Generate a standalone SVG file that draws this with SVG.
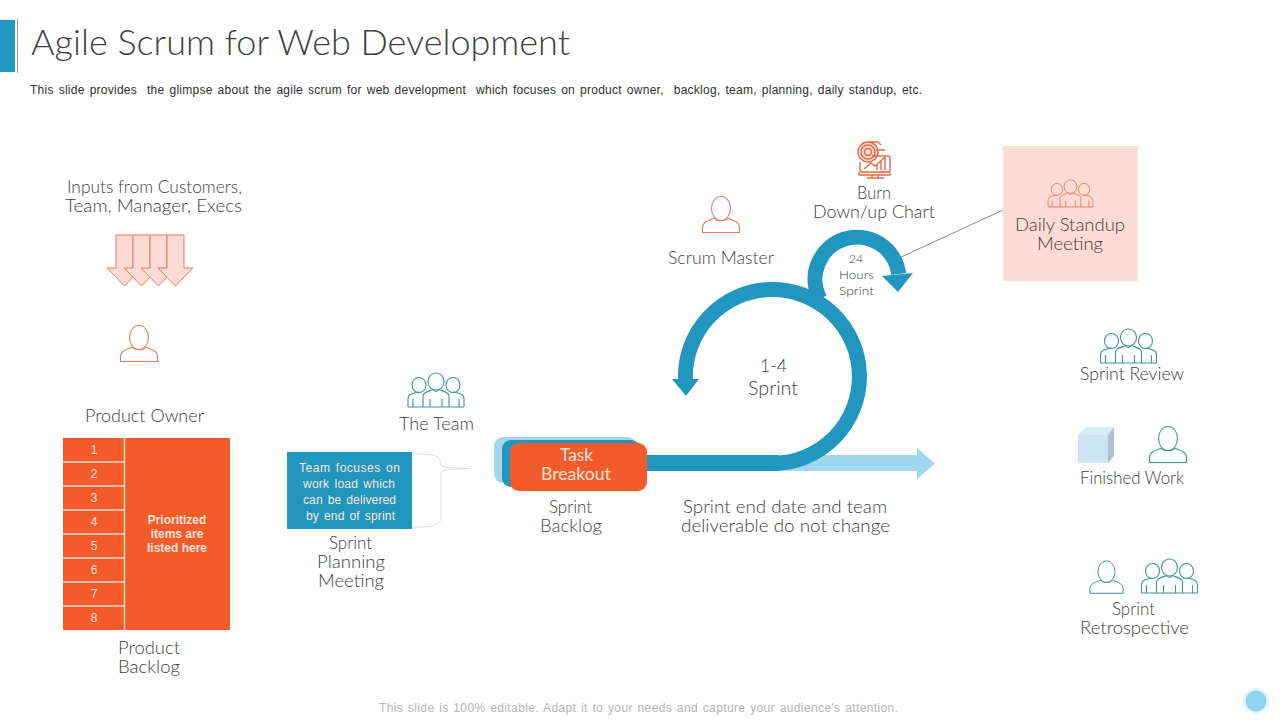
<svg xmlns="http://www.w3.org/2000/svg" xmlns:xlink="http://www.w3.org/1999/xlink" width="1280" height="720" viewBox="0 0 1280 720">
<style>
text{font-family:"Lato","Open Sans","Liberation Sans",sans-serif;font-weight:300;font-size:17px;fill:#404040;white-space:pre}
.title{font-size:36px;fill:#3f3f3f}
.sans{font-family:"Liberation Sans",Arial,sans-serif;font-weight:400;font-size:12px}
.sub{fill:#2e2e2e;word-spacing:1.400px}
.foot{fill:#b5b5b5;word-spacing:1px}
.lt{fill:#fde3da}
.wd{word-spacing:1.500px}
.b{font-weight:700}
.c{text-anchor:middle}
.w{font-weight:400;fill:#fde3da}
.small{font-size:12.5px}
.ico{fill:none;stroke-width:1.1;stroke-linejoin:round}
.or{stroke:#e67a5c}
.te{stroke:#3f93a8}
.blue{fill:#2196bf}
.pale{fill:#9fd8ee}
.rowl{stroke:#fddccf;stroke-width:1.5}
</style>
<defs>
<g id="person"><ellipse cx="0" cy="-11.500" rx="9.500" ry="12"/><path d="M-18.500 12.500V7.500C-18.500 2-13 0.500-6.500-2C-5 1.500 5 1.500 6.500-2C13 0.500 18.500 2 18.500 7.500V12.500Z"/></g>
<g id="team"><ellipse cx="-17" cy="-22" rx="7" ry="7.500"/><ellipse cx="17" cy="-22" rx="7" ry="7.500"/><ellipse cx="0" cy="-25.500" rx="8" ry="8.500"/><path d="M-28 0V-8C-28-13-23-14-17-15M28 0V-8C28-13 23-14 17-15M-28 0H28M-13 0V-11C-13-15-6-16-3-17.500C-1-15 1-15 3-17.500C6-16 13-15 13-11V0M-23 0V-8M23 0V-8M-6 0V-8M6 0V-8"/></g>
<path id="downarrow" d="M-8.500 0H8.500V33H17.500L0 51L-17.500 33H-8.500Z" fill="#fcdcd4" stroke="#e67a5c" stroke-width="1"/>
</defs>

<g id="header">
<rect x="0" y="20" width="15" height="52" fill="#2196bf"/>
<rect x="17" y="19" width="1" height="54" fill="#c9916f"/>
<text class="title" x="31" y="55" textLength="539" lengthAdjust="spacingAndGlyphs">Agile Scrum for Web Development</text>
<text class="sans sub" x="30" y="94" textLength="892" lengthAdjust="spacing">This slide provides  the glimpse about the agile scrum for web development  which focuses on product owner,  backlog, team, planning, daily standup, etc.</text>
</g>

<g id="connectors">
<path d="M1003 210L899 258" stroke="#8c8c8c" stroke-width="1" fill="none"/>
<path d="M412 454C428 454 440 453 441 465C442 468 455 468 470 468.500C455 469 442 469 441 473V518C440 527 428 527 412 527" fill="none" stroke="#dcdcdc" stroke-width="1"/>
<path class="pale" d="M780 455H917V448L935 463.500L917 479V471H780Z"/>
<rect class="blue" x="647" y="455" width="132" height="16"/>
<path d="M772.500 463.500A87 87 0 1 0 685.500 380" fill="none" stroke="#2196bf" stroke-width="15"/>
<path class="blue" d="M672 379H699L686 396Z"/>
<path d="M820 299A42 42 0 1 1 898.700 274" fill="none" stroke="#2196bf" stroke-width="15"/>
<path class="blue" d="M882 276L913 273L898 292Z"/>
</g>

<g id="inputs">
<text x="67" y="193" textLength="175" lengthAdjust="spacingAndGlyphs">Inputs from Customers,</text>
<text x="65" y="212" textLength="177" lengthAdjust="spacingAndGlyphs">Team, Manager, Execs</text>
<use xlink:href="#downarrow" href="#downarrow" x="124.500" y="235"/>
<use xlink:href="#downarrow" href="#downarrow" x="141.500" y="235"/>
<use xlink:href="#downarrow" href="#downarrow" x="158.500" y="235"/>
<use xlink:href="#downarrow" href="#downarrow" x="175.500" y="235"/>
</g>

<g id="product-owner">
<use class="ico or" href="#person" x="139" y="349"/>
<text x="85" y="422" textLength="119" lengthAdjust="spacingAndGlyphs">Product Owner</text>
</g>

<g id="product-backlog">
<rect x="63" y="438" width="167" height="192" fill="#f35b2a"/>
<path class="rowl" d="M124.500 438V630M63 462H124M63 486H124M63 510H124M63 534H124M63 558H124M63 582H124M63 606H124"/>
<text class="sans lt c" x="94" y="454">1</text>
<text class="sans lt c" x="94" y="478">2</text>
<text class="sans lt c" x="94" y="502">3</text>
<text class="sans lt c" x="94" y="526">4</text>
<text class="sans lt c" x="94" y="550">5</text>
<text class="sans lt c" x="94" y="574">6</text>
<text class="sans lt c" x="94" y="598">7</text>
<text class="sans lt c" x="94" y="622">8</text>
<text class="sans lt b c" x="177" y="524">Prioritized</text>
<text class="sans lt b c" x="177" y="538">items are</text>
<text class="sans lt b c" x="177" y="552">listed here</text>
<text x="118" y="654" textLength="62" lengthAdjust="spacingAndGlyphs">Product</text>
<text x="118" y="673" textLength="62" lengthAdjust="spacingAndGlyphs">Backlog</text>
</g>

<g id="the-team">
<use class="ico te" href="#team" x="436" y="407"/>
<text x="399" y="430" textLength="75" lengthAdjust="spacingAndGlyphs">The Team</text>
</g>

<g id="sprint-planning">
<rect x="287" y="452" width="125" height="77" fill="#2196bf"/>
<text class="sans lt wd" x="299" y="472" textLength="101" lengthAdjust="spacing">Team focuses on</text>
<text class="sans lt wd" x="303" y="488" textLength="92" lengthAdjust="spacing">work load which</text>
<text class="sans lt wd" x="303" y="504" textLength="93" lengthAdjust="spacing">can be delivered</text>
<text class="sans lt wd" x="306" y="520" textLength="89" lengthAdjust="spacing">by end of sprint</text>
<text x="329" y="549" textLength="43" lengthAdjust="spacingAndGlyphs">Sprint</text>
<text x="317" y="568" textLength="68" lengthAdjust="spacingAndGlyphs">Planning</text>
<text x="318" y="587" textLength="66" lengthAdjust="spacingAndGlyphs">Meeting</text>
</g>

<g id="sprint-backlog">
<rect x="494" y="437" width="143" height="46" rx="9" class="pale"/>
<rect x="502" y="440" width="138" height="47" rx="9" class="blue"/>
<rect x="510" y="443" width="137" height="48" rx="9" fill="#f35b2a"/>
<text class="w" x="560" y="461" textLength="33" lengthAdjust="spacingAndGlyphs">Task</text>
<text class="w" x="541" y="480" textLength="70" lengthAdjust="spacingAndGlyphs">Breakout</text>
<text x="549" y="513" textLength="43" lengthAdjust="spacingAndGlyphs">Sprint</text>
<text x="540" y="532" textLength="62" lengthAdjust="spacingAndGlyphs">Backlog</text>
</g>

<g id="sprint-note">
<text x="683" y="513" textLength="204" lengthAdjust="spacingAndGlyphs">Sprint end date and team</text>
<text x="681" y="532" textLength="209" lengthAdjust="spacingAndGlyphs">deliverable do not change</text>
</g>

<g id="sprint-cycle">
<text style="font-size:18px" x="760" y="372" textLength="27" lengthAdjust="spacingAndGlyphs">1-4</text>
<text style="font-size:20px" x="748" y="395" textLength="50" lengthAdjust="spacingAndGlyphs">Sprint</text>
<text class="small" x="849" y="263" textLength="14" lengthAdjust="spacingAndGlyphs">24</text>
<text class="small" x="839" y="279" textLength="35" lengthAdjust="spacingAndGlyphs">Hours</text>
<text class="small" x="839" y="295" textLength="35" lengthAdjust="spacingAndGlyphs">Sprint</text>
</g>

<g id="scrum-master">
<use class="ico or" href="#person" x="721" y="220"/>
<text x="668" y="264" textLength="106" lengthAdjust="spacingAndGlyphs">Scrum Master</text>
</g>

<g id="burn-chart">
<g class="ico or" style="stroke-width:1.400;stroke:#e26a48">
<circle cx="868" cy="152" r="10" fill="#fcdcd4"/><circle cx="868" cy="152" r="7"/><circle cx="868" cy="152" r="3.500"/>
<path d="M868 142H878L881 145M876 150H885M872 156H888Q890 156 890 158V170Q890 172 888 172H862Q860 172 860 170V162"/>
<path d="M859 172V175H890V172M872 175V178H878V175M867 178H884"/>
<path d="M864 169L871 163L875 166L885 157M885 157V170M881 161V170M877 165V170"/>
</g>
<text x="857" y="199" textLength="34" lengthAdjust="spacingAndGlyphs">Burn</text>
<text x="813" y="218" textLength="122" lengthAdjust="spacingAndGlyphs">Down/up Chart</text>
</g>

<g id="daily-standup">
<rect x="1003" y="146" width="135" height="135" fill="#fcdcd4"/>
<g transform="translate(1070.500 207) scale(.8)"><use class="ico or" href="#team"/></g>
<text x="1015" y="231" textLength="110" lengthAdjust="spacingAndGlyphs">Daily Standup</text>
<text x="1037" y="250" textLength="66" lengthAdjust="spacingAndGlyphs">Meeting</text>
</g>

<g id="sprint-review">
<use class="ico te" href="#team" x="1128.500" y="363"/>
<text x="1080" y="380" textLength="104" lengthAdjust="spacingAndGlyphs">Sprint Review</text>
</g>

<g id="finished-work">
<path d="M1078 435L1086 427H1114L1108 435Z" fill="#d6ecf6"/>
<path d="M1108 435L1114 427V456L1108 463Z" fill="#a9c4d2"/>
<rect x="1078" y="435" width="30" height="28" fill="#c9e6f2"/>
<use class="ico te" href="#person" x="1168" y="450"/>
<text x="1080" y="484" textLength="104" lengthAdjust="spacingAndGlyphs">Finished Work</text>
</g>

<g id="sprint-retrospective">
<g transform="translate(1106.500 582) scale(.9)"><use class="ico te" href="#person"/></g>
<use class="ico te" href="#team" x="1169.500" y="593"/>
<text x="1112" y="615" textLength="43" lengthAdjust="spacingAndGlyphs">Sprint</text>
<text x="1080" y="634" textLength="109" lengthAdjust="spacingAndGlyphs">Retrospective</text>
</g>

<g id="footer">
<text class="sans foot" x="379" y="712" textLength="519" lengthAdjust="spacing">This slide is 100% editable. Adapt it to your needs and capture your audience's attention.</text>
<circle cx="1256" cy="701" r="13" fill="#e6f5fb"/>
<circle cx="1256" cy="701" r="10.500" fill="#8fd3ec"/>
</g>
</svg>
